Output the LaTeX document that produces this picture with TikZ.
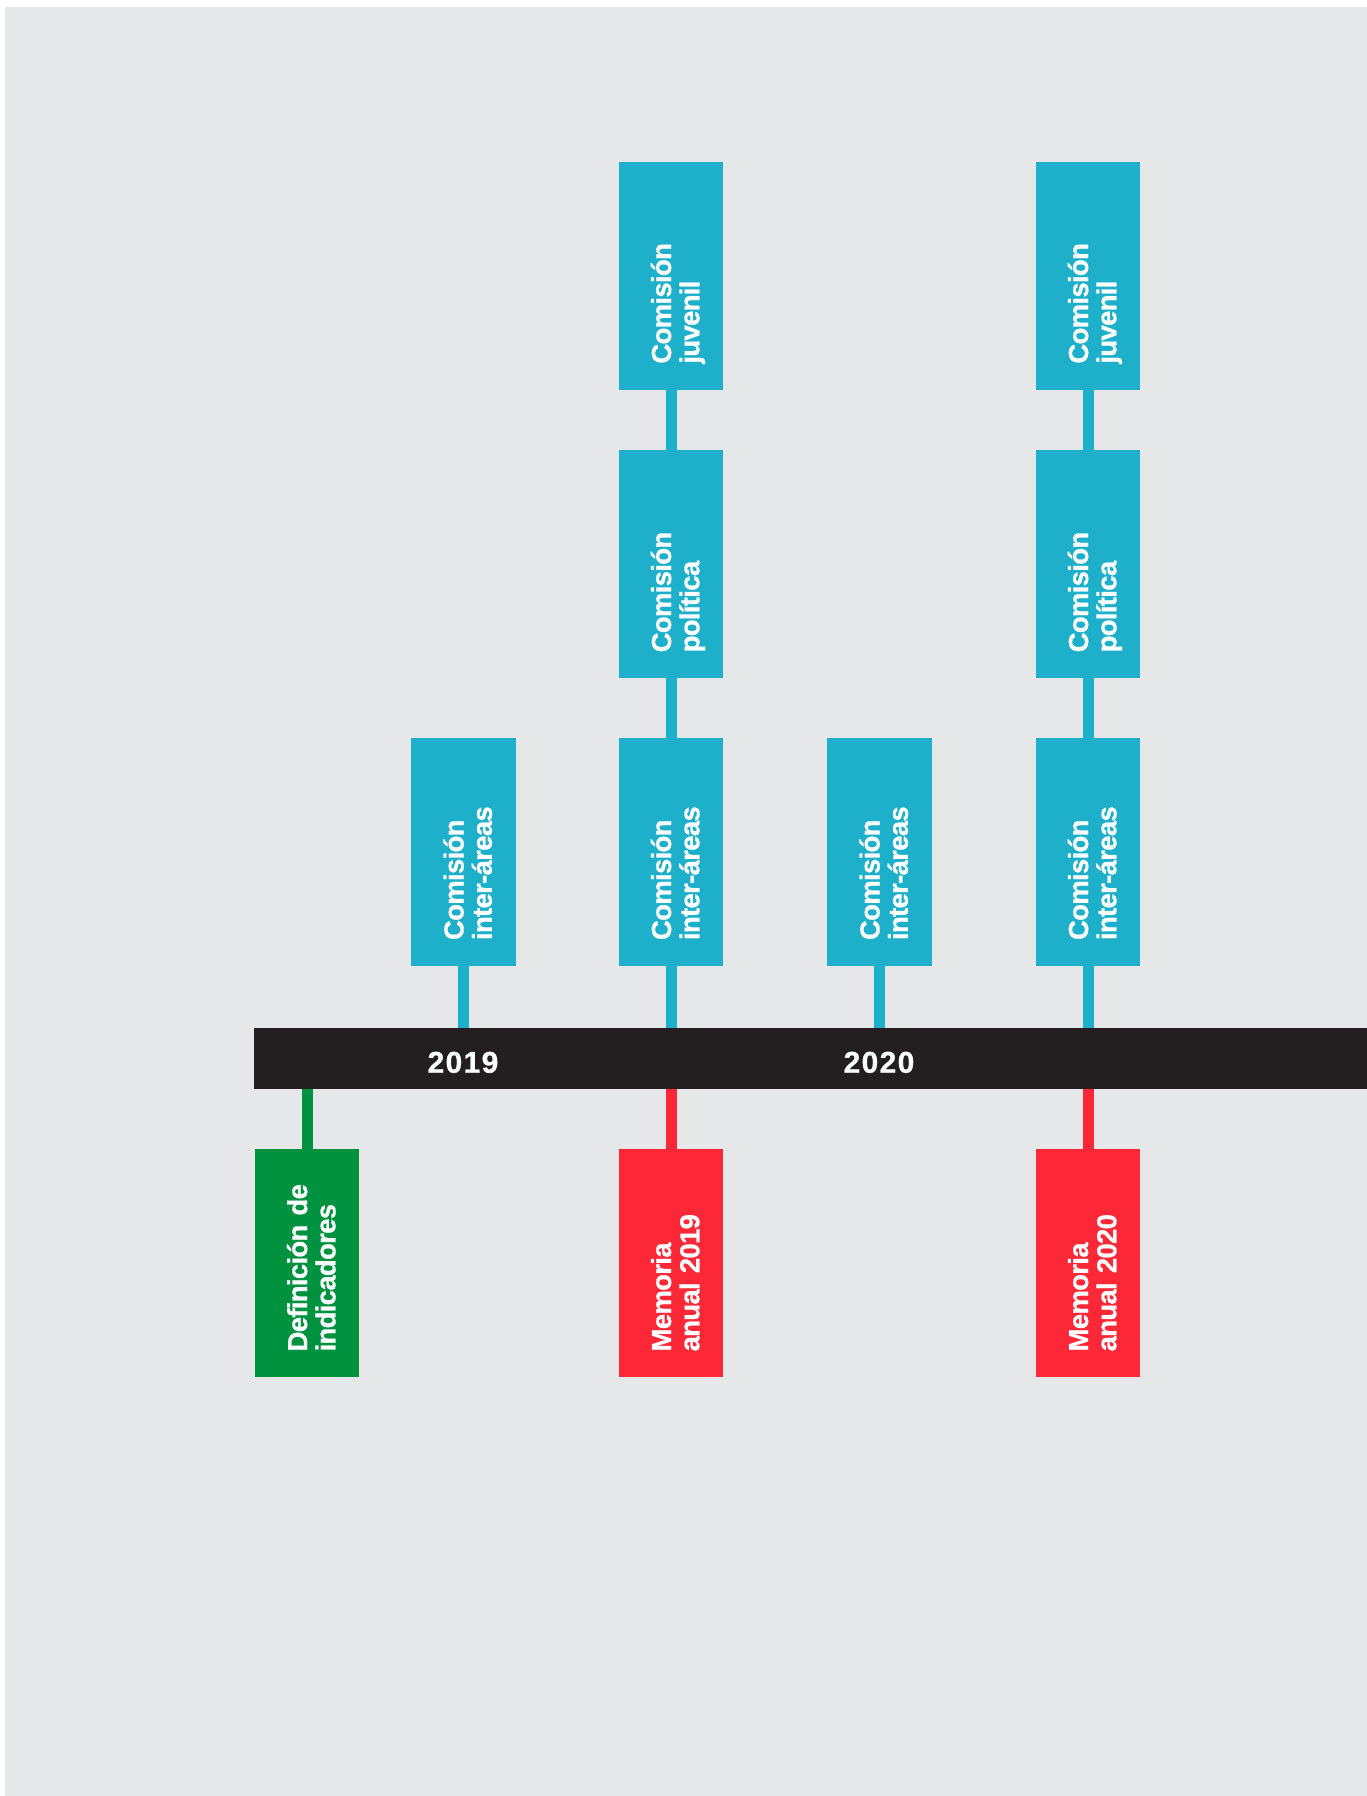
\documentclass[tikz,border=0pt]{standalone}
\usepackage{fontspec}
\setmainfont{Liberation Sans}
\newfontfamily\eventfont{Liberation Sans}[LetterSpace=-2.5, BoldFeatures={FakeBold=0.8}]
\newfontfamily\yearfont{Liberation Sans}[LetterSpace=4.5, BoldFeatures={FakeBold=0.8}]
\usepackage{xcolor}
\usepackage{tikz}
\definecolor{bg_gray}{HTML}{E6E7E9}
\definecolor{box_cyan}{HTML}{1EB0CB}
\definecolor{box_green}{HTML}{00923F}
\definecolor{box_red}{HTML}{FC2838}
\definecolor{bar_black}{HTML}{231F20}

\begin{document}
\begin{tikzpicture}[x=0.5pt, y=-0.5pt,
    event/.style={rotate=90, minimum width=114pt, minimum height=52.25pt,
      text width=88pt, text height=16pt, text depth=16pt,
      inner xsep=13pt, inner ysep=0pt, outer sep=0pt,
      align=left, text=white, font=\eventfont\fontsize{13.75pt}{14.15pt}\selectfont\bfseries},
    stem/.style={line width=5.5pt},
    year/.style={text=white, inner sep=0pt, anchor=base,
      font=\yearfont\fontsize{15pt}{16pt}\selectfont\bfseries}]

    % Background
    \useasboundingbox (0,0) rectangle (1367,1796);
    \fill[bg_gray] (4.6,6.9) rectangle (1367,1796);

    % Timeline bar and years
    \node[fill=bar_black, minimum width=556.3pt, minimum height=30.3pt,
      inner sep=0pt, outer sep=0pt] (timeline) at (810.7,1058.3) {};
    \node[year] (y2019) at (463,1072.7) {2019};
    \node[year] (y2020) at (879,1072.7) {2020};

    % Start - definition of indicators
    \node[event, fill=box_green] (indic) at (307.1,1263.4) {Definición de\\indicadores};
    \draw[stem, box_green] (indic.east) -- (indic.east |- timeline.south);

    % 2019 - first inter-area commission
    \node[event, fill=box_cyan] (inter19a) at (463.5,852) {Comisión\\inter-áreas};
    \draw[stem, box_cyan] (inter19a.west) -- (inter19a.west |- timeline.north);

    % End of 2019 - commissions and annual report
    \node[event, fill=box_cyan] (inter19b) at (671,852) {Comisión\\inter-áreas};
    \node[event, fill=box_cyan] (polit19) at (671,564.3) {Comisión\\política};
    \node[event, fill=box_cyan] (juven19) at (671,275.6) {Comisión\\juvenil};
    \node[event, fill=box_red] (memo19) at (671,1263.4) {Memoria\\anual 2019};
    \draw[stem, box_cyan] (inter19b.west) -- (inter19b.west |- timeline.north);
    \draw[stem, box_cyan] (inter19b.east) -- (polit19.west);
    \draw[stem, box_cyan] (polit19.east) -- (juven19.west);
    \draw[stem, box_red] (memo19.east) -- (memo19.east |- timeline.south);

    % 2020 - inter-area commission
    \node[event, fill=box_cyan] (inter20a) at (879.5,852) {Comisión\\inter-áreas};
    \draw[stem, box_cyan] (inter20a.west) -- (inter20a.west |- timeline.north);

    % End of 2020 - commissions and annual report
    \node[event, fill=box_cyan] (inter20b) at (1088,852) {Comisión\\inter-áreas};
    \node[event, fill=box_cyan] (polit20) at (1088,564.3) {Comisión\\política};
    \node[event, fill=box_cyan] (juven20) at (1088,275.6) {Comisión\\juvenil};
    \node[event, fill=box_red] (memo20) at (1088,1263.4) {Memoria\\anual 2020};
    \draw[stem, box_cyan] (inter20b.west) -- (inter20b.west |- timeline.north);
    \draw[stem, box_cyan] (inter20b.east) -- (polit20.west);
    \draw[stem, box_cyan] (polit20.east) -- (juven20.west);
    \draw[stem, box_red] (memo20.east) -- (memo20.east |- timeline.south);
\end{tikzpicture}
\end{document}
